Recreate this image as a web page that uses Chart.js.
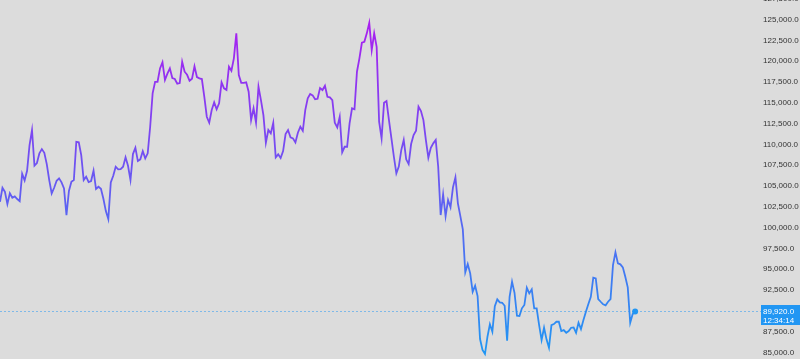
<!DOCTYPE html>
<html>
<head>
<meta charset="utf-8">
<script src="https://cdn.jsdelivr.net/npm/chart.js@4.4.1/dist/chart.umd.min.js"></script>
<style>
  html, body { margin: 0; padding: 0; background: #dcdcdc; }
  #wrap { width: 800px; height: 359px; position: relative; }
</style>
</head>
<body>
<div id="wrap"><canvas id="priceChart"></canvas></div>
<script>
// closing prices, one per bar, oldest first
const closes = [
  103100, 104780, 104300, 102820, 104110, 103580, 103750, 103430, 103180, 106470,
  105670, 106830, 109920, 111720, 107430, 107750, 108920, 109430, 108990, 107630,
  105710, 104110, 104780, 105620, 105910, 105430, 104710, 101500, 104390, 105500,
  105710, 110310, 110240, 108710, 105710, 106110, 105470, 105590, 106830, 104630,
  104900, 104660, 103460, 101980, 101020, 105430, 106230, 107310, 107000, 107030,
  107310, 108440, 107430, 105710, 108830, 109590, 107990, 108200, 109190, 108320,
  108920, 112120, 116130, 117520, 117520, 119130, 119860, 117730, 118490, 119130,
  117970, 117850, 117280, 117370, 119930, 118730, 118360, 117640, 117880, 119370,
  118090, 117930,
  117850, 115720, 113320, 112600, 114120, 115050, 114210, 114930, 117450, 116730,
  116530, 119330, 118850, 120340, 123340, 118330, 117400, 117400, 117450, 116320,
  112920, 114330, 112600, 116920, 115320, 113520, 110190, 111720, 111320, 112600,
  108440, 108800, 108350, 109190, 111240, 111720, 110840, 110720, 110240, 111390,
  112120, 111630, 114120, 115530, 116050, 115890, 115410, 115480, 116770, 116530,
  117040, 115720, 115650, 115320, 112600, 112040, 113320, 109040, 109710, 109710,
  112520, 114330, 114210, 118730, 120340, 122210, 122330, 123340, 124610, 121330,
  123340, 121730, 112720, 110720, 115000, 115200, 112920, 110720, 108510, 106510,
  107330, 109310, 110520, 108200, 107630, 110040, 111120, 111630, 114520, 114000,
  112920, 110520, 108390, 109590, 110120, 110520, 107310, 101500, 103990, 101380,
  103310, 102430, 104830, 106030, 102910, 101380, 99780, 94620, 95610, 94500,
  92280, 93000, 91770, 86600, 85280, 84800, 86870, 88370, 87480, 90560,
  91370, 91010, 90960, 90600, 86390, 91680, 93490, 92160, 89400, 89360,
  90290, 90690, 92760, 92090, 92570, 90290, 90290, 88280, 86480, 87960,
  86560, 85550, 88280, 88400, 88680, 88680, 87560, 87680, 87360, 87560,
  87960, 88000, 87360, 88560, 87800, 88880, 89880, 90810, 91680, 93970,
  93890, 91410, 91080, 90770, 90650, 91080, 91410, 95490, 97020, 95700,
  95580, 95220, 94090, 92810, 88560, 89600, 89920
];

const priceTicks = [
  85000, 87500, 90000, 92500, 95000, 97500, 100000, 102500, 105000,
  107500, 110000, 112500, 115000, 117500, 120000, 122500, 125000, 127500
];
// the 90,000 tick is hidden behind the last-price label
const hiddenTicks = [90000];

const barCountdown = '12:34:14';

const fmt = (v) => v.toLocaleString('en-US', { minimumFractionDigits: 1, maximumFractionDigits: 1 });
const lastPrice = closes[closes.length - 1];
const blue = '#2196f3';
const labelFont = '"Liberation Sans", Arial, sans-serif';

const lastPricePlugin = {
  id: 'lastPrice',
  afterDatasetsDraw(chart) {
    const { ctx, chartArea, scales } = chart;
    const y = Math.round(scales.y.getPixelForValue(lastPrice)) + 0.5;
    ctx.save();
    ctx.strokeStyle = 'rgba(33,150,243,0.5)';
    ctx.lineWidth = 1;
    ctx.setLineDash([2, 2]);
    ctx.beginPath();
    ctx.moveTo(chartArea.left, y);
    ctx.lineTo(chart.width, y);
    ctx.stroke();
    ctx.setLineDash([]);

    const boxLeft = chartArea.right + 4;
    ctx.fillStyle = blue;
    ctx.fillRect(boxLeft, y - 6.5, chart.width - boxLeft, 20);
    ctx.fillStyle = '#ffffff';
    ctx.font = '8px ' + labelFont;
    ctx.textAlign = 'left';
    ctx.textBaseline = 'middle';
    ctx.fillText(fmt(lastPrice), boxLeft + 2, y + 0.5);
    ctx.fillText(barCountdown, boxLeft + 2, y + 9.5);
    ctx.restore();
  }
};

new Chart(document.getElementById('priceChart'), {
  type: 'line',
  data: {
    datasets: [{
      data: closes.map((c, i) => ({ x: i, y: c })),
      borderWidth: 1.8,
      tension: 0,
      borderColor: (context) => {
        const { chart } = context;
        const { ctx, chartArea, scales } = chart;
        if (!chartArea) return blue;
        const top = scales.y.getPixelForValue(125000);
        const bottom = scales.y.getPixelForValue(85000);
        const g = ctx.createLinearGradient(0, top, 0, bottom);
        g.addColorStop(0, '#aa1ef0');
        g.addColorStop(1, blue);
        return g;
      },
      pointRadius: (context) => (context.dataIndex === closes.length - 1 ? 3 : 0),
      pointBackgroundColor: blue,
      pointBorderWidth: 0,
      clip: false,
    }]
  },
  options: {
    responsive: true,
    maintainAspectRatio: false,
    animation: false,
    layout: { padding: 0, autoPadding: false },
    plugins: {
      legend: { display: false },
      tooltip: { enabled: false },
    },
    scales: {
      x: {
        type: 'linear',
        display: false,
        min: 0,
        max: 307.5,
      },
      y: {
        position: 'right',
        min: 84200,
        max: 127350,
        grid: { display: false, drawTicks: false },
        border: { display: false },
        afterBuildTicks: (scale) => {
          scale.ticks = priceTicks.map((v) => ({ value: v }));
        },
        afterFit: (scale) => {
          scale.width = 43;
          scale.paddingTop = 0;
          scale.paddingBottom = 0;
        },
        ticks: {
          autoSkip: false,
          padding: 6,
          color: '#333333',
          font: { family: labelFont, size: 8 },
          callback: (v) => (hiddenTicks.includes(v) ? '' : fmt(v)),
        },
      },
    },
  },
  plugins: [lastPricePlugin],
});
</script>
</body>
</html>
